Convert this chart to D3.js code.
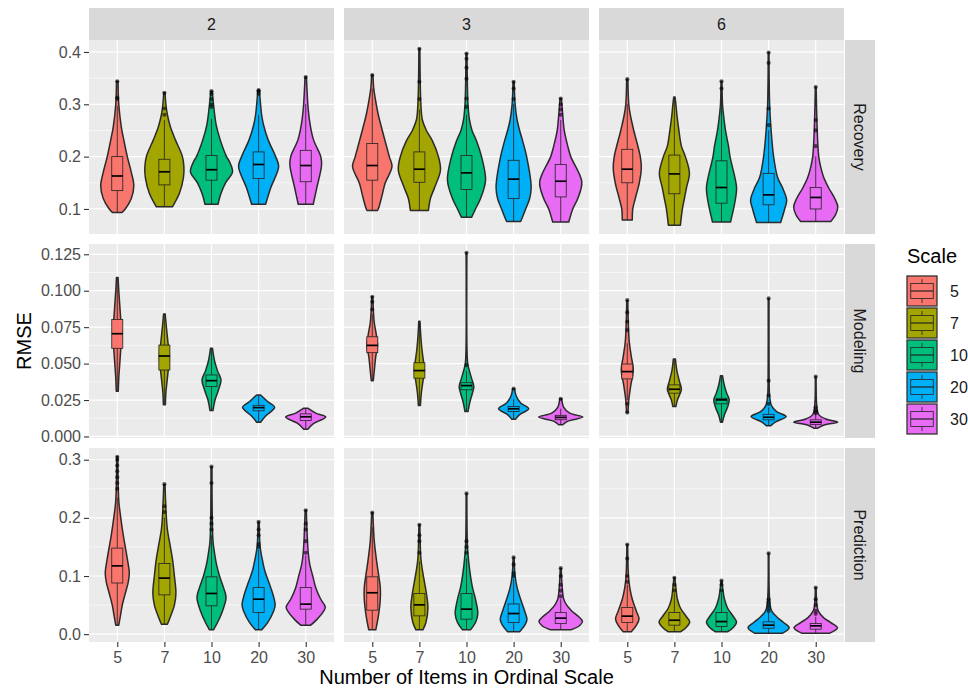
<!DOCTYPE html>
<html><head><meta charset="utf-8">
<script src="https://cdn.jsdelivr.net/npm/d3@7"></script>
<style>body{margin:0;background:#fff;} text{font-family:"Liberation Sans",Arial,Helvetica,sans-serif;}</style>
</head><body><svg id="chart" width="968" height="692"></svg>
<script>
const facetCols = ["2","3","6"];
const facetRows = ["Recovery","Modeling","Prediction"];
const scaleLevels = ["5","7","10","20","30"];
const fillColors = ["#F8766D","#A3A500","#00BF7D","#00B0F6","#E76BF3"];

const recoveryTicks = [0.1,0.2,0.3,0.4];
const recoveryTickLabels = ["0.1","0.2","0.3","0.4"];
const modelingTicks = [0,0.025,0.05,0.075,0.1,0.125];
const modelingTickLabels = ["0.000","0.025","0.050","0.075","0.100","0.125"];
const predictionTicks = [0,0.1,0.2,0.3];
const predictionTickLabels = ["0.0","0.1","0.2","0.3"];

// density profiles: [value, density] per facet column (2,3,6), per scale level (5,7,10,20,30)
const recoveryDensity = [
 [
  [[0.093,4.5],[0.1,8],[0.12,14],[0.145,16.5],[0.17,14],[0.2,10],[0.232,6.5],[0.257,4],[0.3,1.5],[0.344,0.8]],
  [[0.104,8],[0.13,15],[0.16,19],[0.18,19.5],[0.2,18],[0.232,11],[0.257,6],[0.28,3],[0.3,1.5],[0.322,0.7]],
  [[0.109,6.5],[0.13,9.5],[0.15,14],[0.171,21],[0.19,18],[0.2,15],[0.232,8.7],[0.26,4.7],[0.3,2],[0.325,0.8]],
  [[0.109,7],[0.14,12],[0.181,20],[0.2,17],[0.232,9.5],[0.26,5],[0.28,3],[0.327,0.8]],
  [[0.109,7.5],[0.14,11],[0.184,15.8],[0.2,15],[0.232,7.8],[0.26,4.5],[0.29,2.5],[0.352,0.7]]
 ],
 [
  [[0.097,5],[0.1,6],[0.12,9],[0.15,13],[0.181,19.7],[0.2,17],[0.25,10],[0.28,6],[0.3,4],[0.33,1.5],[0.356,0.7]],
  [[0.097,9],[0.12,11],[0.14,15],[0.174,21],[0.2,19],[0.23,13],[0.25,7],[0.27,3],[0.3,1.5],[0.406,0.5]],
  [[0.084,5],[0.1,9],[0.12,14],[0.155,19],[0.2,15],[0.23,10],[0.25,5.5],[0.27,3],[0.3,1.5],[0.397,0.5]],
  [[0.076,7],[0.085,9],[0.1,12],[0.12,16],[0.142,17.5],[0.2,13],[0.23,9],[0.25,6],[0.27,3.5],[0.3,1.5],[0.343,0.6]],
  [[0.075,8],[0.1,12],[0.12,17],[0.152,21],[0.2,10],[0.22,7],[0.25,3.5],[0.28,2],[0.311,0.7]]
 ],
 [
  [[0.079,5],[0.1,5.5],[0.12,8],[0.15,12],[0.178,14],[0.2,13],[0.25,6.5],[0.28,3],[0.3,1.5],[0.348,0.6]],
  [[0.069,6],[0.1,8],[0.12,10],[0.14,12],[0.168,15],[0.2,11],[0.22,7],[0.25,4.5],[0.28,2.5],[0.3,1.5],[0.314,0.6]],
  [[0.075,9],[0.1,12],[0.12,14],[0.142,15],[0.2,8.5],[0.22,7],[0.25,4],[0.28,2],[0.3,1],[0.344,0.5]],
  [[0.074,12],[0.1,16],[0.117,18],[0.14,14],[0.16,9],[0.2,5],[0.25,2.5],[0.3,1],[0.399,0.4]],
  [[0.076,15],[0.09,20],[0.104,22],[0.12,19],[0.14,13],[0.16,8],[0.18,5],[0.2,3],[0.25,1.5],[0.333,0.4]]
 ]
];
// box stats: [lower whisker, q1, median, q3, upper whisker]
const recoveryBoxes = [
 [[0.093,0.135,0.163,0.200,0.297],[0.104,0.146,0.171,0.195,0.27],[0.109,0.155,0.175,0.202,0.272],[0.109,0.158,0.185,0.209,0.28],[0.109,0.152,0.183,0.212,0.30]],
 [[0.097,0.155,0.183,0.225,0.33],[0.097,0.151,0.176,0.209,0.29],[0.084,0.137,0.169,0.202,0.28],[0.076,0.12,0.157,0.193,0.30],[0.075,0.123,0.153,0.185,0.27]],
 [[0.079,0.15,0.176,0.214,0.30],[0.069,0.129,0.167,0.203,0.314],[0.075,0.111,0.141,0.192,0.31],[0.074,0.108,0.127,0.168,0.25],[0.076,0.1,0.122,0.141,0.2]]
];
const recoveryOutliers = [
 [[0.31,0.313,0.344],[0.28,0.292,0.322],[0.295,0.3,0.31,0.32,0.325],[0.32,0.325,0.327],[0.352]],
 [[0.356],[0.31,0.343,0.406],[0.295,0.311,0.349,0.37,0.387,0.397],[0.31,0.33,0.343],[0.28,0.29,0.3,0.311]],
 [[0.348],[],[0.33,0.344],[0.26,0.292,0.379,0.399],[0.22,0.25,0.27,0.333]]
];

const modelingDensity = [
 [
  [[0.031,1],[0.04,1.5],[0.05,2.5],[0.06,3.5],[0.07,4.5],[0.08,3.5],[0.09,2.5],[0.1,1.5],[0.109,0.8]],
  [[0.0217,1],[0.03,1.5],[0.04,3],[0.05,4.5],[0.055,5],[0.065,3.5],[0.075,2],[0.084,0.8]],
  [[0.0178,1.5],[0.025,3.5],[0.032,7],[0.0388,9.5],[0.045,6],[0.052,3],[0.0605,1]],
  [[0.0098,2],[0.014,7],[0.02,16],[0.024,9],[0.0285,2]],
  [[0.005,2],[0.009,8],[0.0133,20],[0.016,10],[0.0194,2]]
 ],
 [
  [[0.0383,1],[0.045,2],[0.055,3.5],[0.062,5.3],[0.07,4],[0.078,2],[0.085,1.2],[0.0958,0.6]],
  [[0.0212,1],[0.03,2],[0.04,4],[0.0456,5],[0.052,4],[0.06,2.5],[0.07,1.3],[0.079,0.6]],
  [[0.0171,1.5],[0.024,3.5],[0.03,6],[0.0342,7.3],[0.04,5],[0.046,2.5],[0.05,1.2],[0.06,0.5],[0.126,0.4]],
  [[0.0119,2],[0.015,6],[0.019,15],[0.023,7],[0.028,2.5],[0.0328,1]],
  [[0.008,2],[0.0105,7],[0.0133,22],[0.016,9],[0.02,3],[0.0258,1]]
 ],
 [
  [[0.0164,0.8],[0.025,1.5],[0.035,3.5],[0.0456,6],[0.055,4],[0.065,2],[0.075,1.2],[0.0935,0.5]],
  [[0.0205,1.5],[0.025,3],[0.03,6],[0.0324,7],[0.038,5],[0.045,2.5],[0.0532,1]],
  [[0.0098,1],[0.015,3],[0.02,6],[0.0251,7.7],[0.03,5],[0.036,2.5],[0.0417,1]],
  [[0.0073,2],[0.01,7],[0.0137,17.5],[0.017,8],[0.021,3],[0.025,1.5],[0.03,0.8],[0.04,0.5],[0.0947,0.4]],
  [[0.0057,2],[0.008,9],[0.0098,22],[0.012,10],[0.015,3],[0.02,1.2],[0.041,0.4]]
 ]
];
const modelingBoxes = [
 [[0.031,0.0605,0.0705,0.0803,0.109],[0.0217,0.0456,0.0552,0.0627,0.0844],[0.0178,0.0342,0.0383,0.0422,0.0605],[0.0098,0.0176,0.0198,0.0214,0.0285],[0.005,0.011,0.0135,0.0155,0.0194]],
 [[0.0383,0.0575,0.0625,0.0684,0.084],[0.0212,0.04,0.0452,0.0506,0.079],[0.0171,0.032,0.0349,0.0369,0.045],[0.0119,0.0171,0.019,0.0205,0.0255],[0.008,0.0115,0.0131,0.0145,0.019]],
 [[0.025,0.0395,0.0445,0.0497,0.064],[0.0205,0.0297,0.0324,0.0354,0.0532],[0.0098,0.0224,0.0251,0.0262,0.0417],[0.0073,0.0114,0.0132,0.0152,0.02],[0.0057,0.0083,0.0098,0.0114,0.0155]]
];
const modelingOutliers = [
 [[],[],[],[],[]],
 [[0.0871,0.0924,0.0958],[],[0.049,0.126],[0.0328],[0.0258]],
 [[0.0164,0.0224,0.073,0.0787,0.0851,0.0935],[],[],[0.0224,0.0281,0.0383,0.0947],[0.016,0.017,0.018,0.02,0.041]]
];

const predictionDensity = [
 [
  [[0.0155,1.5],[0.03,3],[0.05,5],[0.07,8],[0.09,11],[0.105,12],[0.13,10],[0.15,8],[0.17,6],[0.2,3.5],[0.23,1.5],[0.305,0.6]],
  [[0.017,3],[0.03,6],[0.05,10],[0.07,11.5],[0.1,10],[0.13,8],[0.15,6],[0.18,3],[0.2,2],[0.258,0.6]],
  [[0.0074,2],[0.02,6],[0.04,11],[0.063,14.5],[0.08,12],[0.1,8],[0.12,5],[0.14,3],[0.16,1.5],[0.288,0.5]],
  [[0.0074,3],[0.02,9],[0.04,15],[0.05,16.5],[0.07,14],[0.09,10],[0.11,6],[0.13,3.5],[0.15,1.5],[0.193,0.6]],
  [[0.0155,5],[0.025,11],[0.04,18],[0.047,19.5],[0.06,15],[0.08,10],[0.1,7],[0.12,4],[0.14,2.5],[0.17,1.5],[0.213,0.6]]
 ],
 [
  [[0.0074,3.5],[0.03,6],[0.06,8],[0.08,8],[0.1,6.5],[0.13,4],[0.16,2],[0.209,0.6]],
  [[0.0074,3.5],[0.02,6.5],[0.045,8.5],[0.07,7],[0.09,5],[0.11,3],[0.13,1.5],[0.188,0.5]],
  [[0.0074,4],[0.02,9],[0.035,11.3],[0.06,9],[0.08,6],[0.1,4],[0.12,2.5],[0.15,1],[0.242,0.4]],
  [[0.004,6],[0.015,11],[0.025,13.3],[0.04,11],[0.06,7],[0.08,3.5],[0.1,1.5],[0.132,0.5]],
  [[0.0074,10],[0.015,19],[0.022,21.7],[0.03,18],[0.04,11],[0.05,6],[0.06,3],[0.08,1.5],[0.1135,0.5]]
 ],
 [
  [[0.004,4],[0.015,9],[0.026,11.7],[0.04,9],[0.06,5],[0.08,2.5],[0.1,1.2],[0.154,0.4]],
  [[0.004,6],[0.012,12],[0.021,15.3],[0.03,12],[0.045,6],[0.06,3],[0.08,1.5],[0.097,0.5]],
  [[0.004,6],[0.012,12],[0.021,15],[0.03,12],[0.045,6],[0.06,3],[0.075,1.5],[0.092,0.5]],
  [[0.0017,14],[0.011,20.5],[0.02,15],[0.03,8],[0.04,3],[0.055,1.2],[0.139,0.4]],
  [[0.0017,14],[0.011,21.7],[0.02,15],[0.028,8],[0.04,2.5],[0.05,1.2],[0.08,0.4]]
 ]
];
const predictionBoxes = [
 [[0.0155,0.088,0.1175,0.148,0.235],[0.0172,0.0676,0.0964,0.1215,0.2],[0.0074,0.0487,0.07,0.0986,0.17],[0.0074,0.0372,0.0602,0.0802,0.145],[0.0155,0.043,0.0516,0.0802,0.135]],
 [[0.0074,0.0413,0.0712,0.0986,0.184],[0.0074,0.0315,0.0504,0.07,0.125],[0.0074,0.0258,0.043,0.07,0.13],[0.004,0.02,0.0355,0.052,0.095],[0.0074,0.0182,0.0275,0.0372,0.06]],
 [[0.004,0.02,0.031,0.0458,0.085],[0.004,0.0155,0.024,0.0372,0.07],[0.004,0.0131,0.0217,0.0372,0.07],[0.0017,0.0103,0.0155,0.0212,0.037],[0.0017,0.0086,0.0143,0.0182,0.03]]
];
const predictionOutliers = [
 [[0.25,0.26,0.27,0.28,0.29,0.3,0.305],[0.21,0.22,0.258],[0.18,0.19,0.2,0.26,0.288],[0.15,0.155,0.17,0.18,0.193],[0.14,0.16,0.18,0.19,0.213]],
 [[0.209],[0.14,0.16,0.17,0.188],[0.14,0.15,0.16,0.242],[0.1,0.105,0.12,0.132],[0.065,0.075,0.085,0.1,0.1135]],
 [[0.09,0.1,0.13,0.154],[0.075,0.085,0.097],[0.075,0.085,0.092],[0.04,0.045,0.05,0.055,0.06,0.139],[0.035,0.04,0.05,0.06,0.08]]
];

// ---------------- drawing ----------------
const rowsData = [
 {density: recoveryDensity, boxes: recoveryBoxes, outliers: recoveryOutliers, ticks: recoveryTicks, labels: recoveryTickLabels},
 {density: modelingDensity, boxes: modelingBoxes, outliers: modelingOutliers, ticks: modelingTicks, labels: modelingTickLabels},
 {density: predictionDensity, boxes: predictionBoxes, outliers: predictionOutliers, ticks: predictionTicks, labels: predictionTickLabels}
];

const svg = d3.select("#chart");
const colLeft = [89, 344, 599];
const panelW = 245;
const rowTop = [40, 244, 448];
const panelH = 194;
const stripTop = 8;
const stripRightX = 845, stripRightW = 30;
const tickFont = 16, titleFont = 20;

const x = d3.scalePoint().domain(scaleLevels).range([0, panelW]).padding(0.6);
const halfW = d3.scaleLinear().domain([0, 47]).range([0, x.step()]);
const boxHalf = x.step() * 0.117;
const color = d3.scaleOrdinal().domain(scaleLevels).range(fillColors);

rowsData.forEach((rd, r) => {
  const vals = [];
  rd.density.forEach(c => c.forEach(p => p.forEach(d => vals.push(d[0]))));
  rd.outliers.forEach(c => c.forEach(o => o.forEach(v => vals.push(v))));
  const ext = d3.extent(vals);
  const pad = (ext[1] - ext[0]) * 0.05;
  const y = d3.scaleLinear().domain([ext[0] - pad, ext[1] + pad]).range([panelH, 0]);
  const stepT = rd.ticks[1] - rd.ticks[0];
  const minors = [rd.ticks[0] - stepT/2, ...rd.ticks.map(t => t + stepT/2)].filter(v => v >= y.domain()[0] && v <= y.domain()[1]);

  facetCols.forEach((fc, c) => {
    const g = svg.append("g").attr("transform", `translate(${colLeft[c]},${rowTop[r]})`);
    g.append("rect").attr("width", panelW).attr("height", panelH).attr("fill", "#EBEBEB");
    g.selectAll(".minor").data(minors).enter().append("line")
      .attr("x1", 0).attr("x2", panelW).attr("y1", d => y(d)).attr("y2", d => y(d))
      .attr("stroke", "#fff").attr("stroke-width", 0.6);
    g.selectAll(".major").data(rd.ticks).enter().append("line")
      .attr("x1", 0).attr("x2", panelW).attr("y1", d => y(d)).attr("y2", d => y(d))
      .attr("stroke", "#fff").attr("stroke-width", 1.2);
    g.selectAll(".vmajor").data(scaleLevels).enter().append("line")
      .attr("y1", 0).attr("y2", panelH).attr("x1", d => x(d)).attr("x2", d => x(d))
      .attr("stroke", "#fff").attr("stroke-width", 1.2);

    const mk = g.append("g");
    scaleLevels.forEach((lv, k) => {
      const cx = x(lv);
      const prof = rd.density[c][k];
      const area = d3.area()
        .y(d => y(d[0]))
        .x0(d => cx - halfW(d[1]))
        .x1(d => cx + halfW(d[1]))
        .curve(d3.curveCatmullRom.alpha(0.5));
      mk.append("path").attr("d", area(prof))
        .attr("fill", color(lv)).attr("stroke", "#2b2b2b").attr("stroke-width", 1.5)
        .attr("stroke-linejoin", "round");
      const b = rd.boxes[c][k];
      mk.append("line").attr("x1", cx).attr("x2", cx).attr("y1", y(b[0])).attr("y2", y(b[1]))
        .attr("stroke", "#222").attr("stroke-width", 0.8);
      mk.append("line").attr("x1", cx).attr("x2", cx).attr("y1", y(b[3])).attr("y2", y(b[4]))
        .attr("stroke", "#222").attr("stroke-width", 0.8);
      mk.append("rect").attr("x", cx - boxHalf).attr("width", boxHalf * 2)
        .attr("y", y(b[3])).attr("height", Math.max(0.5, y(b[1]) - y(b[3])))
        .attr("fill", color(lv)).attr("stroke", "#222").attr("stroke-width", 0.8);
      mk.append("line").attr("x1", cx - boxHalf).attr("x2", cx + boxHalf).attr("y1", y(b[2])).attr("y2", y(b[2]))
        .attr("stroke", "#000").attr("stroke-width", 1.7);
      mk.selectAll(null).data(rd.outliers[c][k]).enter().append("circle")
        .attr("cx", cx).attr("cy", d => y(d)).attr("r", 2.1)
        .attr("fill", "#000").attr("fill-opacity", 0.6);
    });

    if (c === 0) {
      const ax = g.append("g").call(d3.axisLeft(y).tickValues(rd.ticks).tickFormat((d, i) => rd.labels[i]).tickSize(5).tickPadding(3));
      ax.select(".domain").remove();
      ax.selectAll("line").attr("stroke", "#333").attr("stroke-width", 1.1);
      ax.selectAll("text").attr("fill", "#4D4D4D").style("font-size", tickFont + "px").style("font-family", "Liberation Sans, Arial, sans-serif");
    }
    if (r === 2) {
      const ax = g.append("g").attr("transform", `translate(0,${panelH})`).call(d3.axisBottom(x).tickSize(5).tickPadding(5));
      ax.select(".domain").remove();
      ax.selectAll("line").attr("stroke", "#333").attr("stroke-width", 1.1);
      ax.selectAll("text").attr("fill", "#4D4D4D").style("font-size", tickFont + "px").style("font-family", "Liberation Sans, Arial, sans-serif");
    }
    if (r === 0) {
      svg.append("rect").attr("x", colLeft[c]).attr("y", stripTop).attr("width", panelW).attr("height", rowTop[0] - stripTop).attr("fill", "#D9D9D9");
      svg.append("text").attr("x", colLeft[c] + panelW / 2).attr("y", (stripTop + rowTop[0]) / 2).attr("dy", "0.35em")
        .attr("text-anchor", "middle").attr("fill", "#1A1A1A").style("font-size", tickFont + "px").text(fc);
    }
  });
  svg.append("rect").attr("x", stripRightX).attr("y", rowTop[r]).attr("width", stripRightW).attr("height", panelH).attr("fill", "#D9D9D9");
  svg.append("text").attr("transform", `translate(${stripRightX + stripRightW / 2},${rowTop[r] + panelH / 2}) rotate(90)`)
    .attr("dy", "0.35em").attr("text-anchor", "middle").attr("fill", "#1A1A1A").style("font-size", tickFont + "px").text(facetRows[r]);
});

svg.append("text").attr("x", (colLeft[0] + colLeft[2] + panelW) / 2).attr("y", 684).attr("text-anchor", "middle")
  .attr("fill", "#000").style("font-size", titleFont + "px").text("Number of Items in Ordinal Scale");
svg.append("text").attr("transform", `translate(31,${(rowTop[0] + rowTop[2] + panelH) / 2}) rotate(-90)`).attr("text-anchor", "middle")
  .attr("fill", "#000").style("font-size", titleFont + "px").text("RMSE");

const lg = svg.append("g").attr("transform", "translate(907,248)");
lg.append("text").attr("x", 0).attr("y", 15).attr("fill", "#000").style("font-size", titleFont + "px").text("Scale");
const keyW = 30, keyH = 30, keyPitch = 32, keyTop = 28;
scaleLevels.forEach((lv, i) => {
  const kg = lg.append("g").attr("transform", `translate(0,${keyTop + i * keyPitch})`);
  kg.append("rect").attr("width", keyW).attr("height", keyH).attr("fill", color(lv)).attr("stroke", "#333").attr("stroke-width", 1.3);
  kg.append("line").attr("x1", keyW/2).attr("x2", keyW/2).attr("y1", keyH*0.1).attr("y2", keyH*0.25).attr("stroke", "#222").attr("stroke-width", 0.8);
  kg.append("line").attr("x1", keyW/2).attr("x2", keyW/2).attr("y1", keyH*0.75).attr("y2", keyH*0.9).attr("stroke", "#222").attr("stroke-width", 0.8);
  kg.append("rect").attr("x", keyW*0.125).attr("y", keyH*0.25).attr("width", keyW*0.75).attr("height", keyH*0.5)
    .attr("fill", color(lv)).attr("stroke", "#222").attr("stroke-width", 0.8);
  kg.append("line").attr("x1", keyW*0.125).attr("x2", keyW*0.875).attr("y1", keyH/2).attr("y2", keyH/2).attr("stroke", "#222").attr("stroke-width", 1.2);
  lg.append("text").attr("x", 43).attr("y", keyTop + i * keyPitch + keyH / 2).attr("dy", "0.35em")
    .attr("fill", "#1A1A1A").style("font-size", tickFont + "px").text(lv);
});
</script>
</body></html>
